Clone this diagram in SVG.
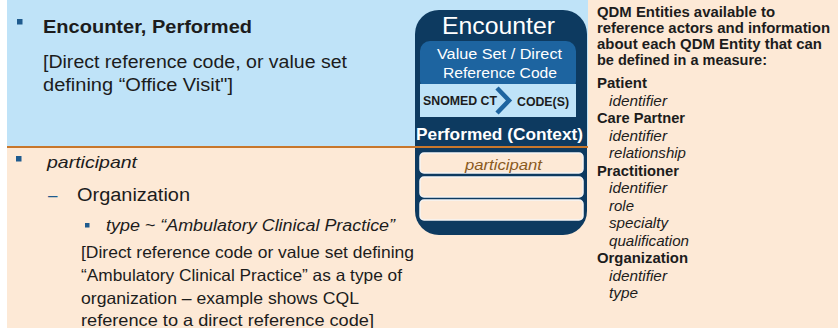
<svg xmlns="http://www.w3.org/2000/svg" width="838" height="328" viewBox="0 0 838 328">
<style>
.t{font-family:"Liberation Sans",Arial,sans-serif;fill:#1c1c1c}
.b{font-weight:bold}
.i{font-style:italic}
.w{fill:#ffffff}
.bul{fill:#1f5b8e}
.slot{fill:#fde9d6;stroke:#f5f5f5;stroke-width:1.5}
.r{font-size:14.5px}
</style>
<rect x="0" y="0" width="838" height="328" fill="#ffffff"/>
<rect x="7" y="0" width="581" height="147" fill="#bfe3f8"/>
<rect x="7" y="147" width="581" height="181" fill="#fde9d6"/>
<rect x="588" y="0" width="250" height="328" fill="#fde9d6"/>

<g id="top-text">
<rect class="bul" x="17" y="19" width="5.5" height="5.5"/>
<text class="t b" x="43" y="33" font-size="18" textLength="209" lengthAdjust="spacingAndGlyphs">Encounter, Performed</text>
<text class="t" x="43" y="68" font-size="17.5" textLength="304" lengthAdjust="spacingAndGlyphs">[Direct reference code, or value set</text>
<text class="t" x="43" y="91" font-size="17.5" textLength="190" lengthAdjust="spacingAndGlyphs">defining “Office Visit"]</text>
</g>

<g id="bottom-text">
<rect class="bul" x="16" y="156" width="5.5" height="5.5"/>
<text class="t i" x="47" y="168" font-size="17" textLength="90" lengthAdjust="spacingAndGlyphs">participant</text>
<text x="48" y="201" font-size="17" font-family="Liberation Sans, Arial, sans-serif" fill="#1f5b8e">–</text>
<text class="t" x="77" y="201" font-size="18" textLength="113" lengthAdjust="spacingAndGlyphs">Organization</text>
<rect class="bul" x="85" y="223" width="4.5" height="4.5"/>
<text class="t i" x="106" y="231" font-size="16" textLength="289" lengthAdjust="spacingAndGlyphs">type ~ “Ambulatory Clinical Practice”</text>
<text class="t" x="81" y="258" font-size="16.5" textLength="333" lengthAdjust="spacingAndGlyphs">[Direct reference code or value set defining</text>
<text class="t" x="81" y="281" font-size="16.5" textLength="321" lengthAdjust="spacingAndGlyphs">“Ambulatory Clinical Practice” as a type of</text>
<text class="t" x="81" y="304" font-size="16.5" textLength="278" lengthAdjust="spacingAndGlyphs">organization – example shows CQL</text>
<text class="t" x="81" y="326" font-size="16.5" textLength="293" lengthAdjust="spacingAndGlyphs">reference to a direct reference code]</text>
</g>

<g id="encounter-card">
<rect x="415" y="10" width="172" height="225" rx="24" fill="#0d3a60"/>
<text class="t w" x="442" y="34" font-size="24" textLength="113" lengthAdjust="spacingAndGlyphs">Encounter</text>
<rect x="420" y="41" width="156" height="50" rx="10" fill="#1d64a0"/>
<text class="t w" x="437" y="59" font-size="15.5" textLength="125" lengthAdjust="spacingAndGlyphs">Value Set / Direct</text>
<text class="t w" x="443" y="78" font-size="15.5" textLength="114" lengthAdjust="spacingAndGlyphs">Reference Code</text>
<rect x="420" y="84" width="156" height="33" fill="#bfe3f8"/>
<path d="M497 88 L509 100.5 L497 113" fill="none" stroke="#1d64a0" stroke-width="4.5"/>
<text class="t b" x="423" y="105" font-size="12" textLength="74" lengthAdjust="spacingAndGlyphs">SNOMED CT</text>
<text class="t b" x="517" y="106" font-size="12" textLength="52" lengthAdjust="spacingAndGlyphs">CODE(S)</text>
<text class="t w b" x="416" y="140" font-size="16.5" textLength="167" lengthAdjust="spacingAndGlyphs">Performed (Context)</text>
<rect class="slot" x="420" y="153" width="163" height="20" rx="4"/>
<rect class="slot" x="420" y="177" width="163" height="20" rx="4"/>
<rect class="slot" x="420" y="200" width="163" height="20" rx="4"/>
<text class="t i" x="465" y="170" font-size="15" textLength="77" lengthAdjust="spacingAndGlyphs" style="fill:#8a5a1e">participant</text>
</g>

<line x1="7" y1="147" x2="588" y2="147" stroke="#c8772c" stroke-width="2"/>

<g id="qdm-entities">
<text class="t b r" x="597" y="17" textLength="178" lengthAdjust="spacingAndGlyphs">QDM Entities available to</text>
<text class="t b r" x="597" y="33" textLength="233" lengthAdjust="spacingAndGlyphs">reference actors and information</text>
<text class="t b r" x="597" y="49" textLength="225" lengthAdjust="spacingAndGlyphs">about each QDM Entity that can</text>
<text class="t b r" x="597" y="65" textLength="170" lengthAdjust="spacingAndGlyphs">be defined in a measure:</text>
<text class="t b r" x="597" y="88" textLength="50" lengthAdjust="spacingAndGlyphs">Patient</text>
<text class="t i r" x="609" y="106" textLength="58" lengthAdjust="spacingAndGlyphs">identifier</text>
<text class="t b r" x="597" y="123" textLength="88" lengthAdjust="spacingAndGlyphs">Care Partner</text>
<text class="t i r" x="609" y="141" textLength="58" lengthAdjust="spacingAndGlyphs">identifier</text>
<text class="t i r" x="609" y="158" textLength="77" lengthAdjust="spacingAndGlyphs">relationship</text>
<text class="t b r" x="597" y="176" textLength="82" lengthAdjust="spacingAndGlyphs">Practitioner</text>
<text class="t i r" x="609" y="193" textLength="58" lengthAdjust="spacingAndGlyphs">identifier</text>
<text class="t i r" x="609" y="211" textLength="25" lengthAdjust="spacingAndGlyphs">role</text>
<text class="t i r" x="609" y="228" textLength="59" lengthAdjust="spacingAndGlyphs">specialty</text>
<text class="t i r" x="609" y="246" textLength="80" lengthAdjust="spacingAndGlyphs">qualification</text>
<text class="t b r" x="597" y="263" textLength="91" lengthAdjust="spacingAndGlyphs">Organization</text>
<text class="t i r" x="609" y="281" textLength="58" lengthAdjust="spacingAndGlyphs">identifier</text>
<text class="t i r" x="609" y="298" textLength="29" lengthAdjust="spacingAndGlyphs">type</text>
</g>
</svg>
